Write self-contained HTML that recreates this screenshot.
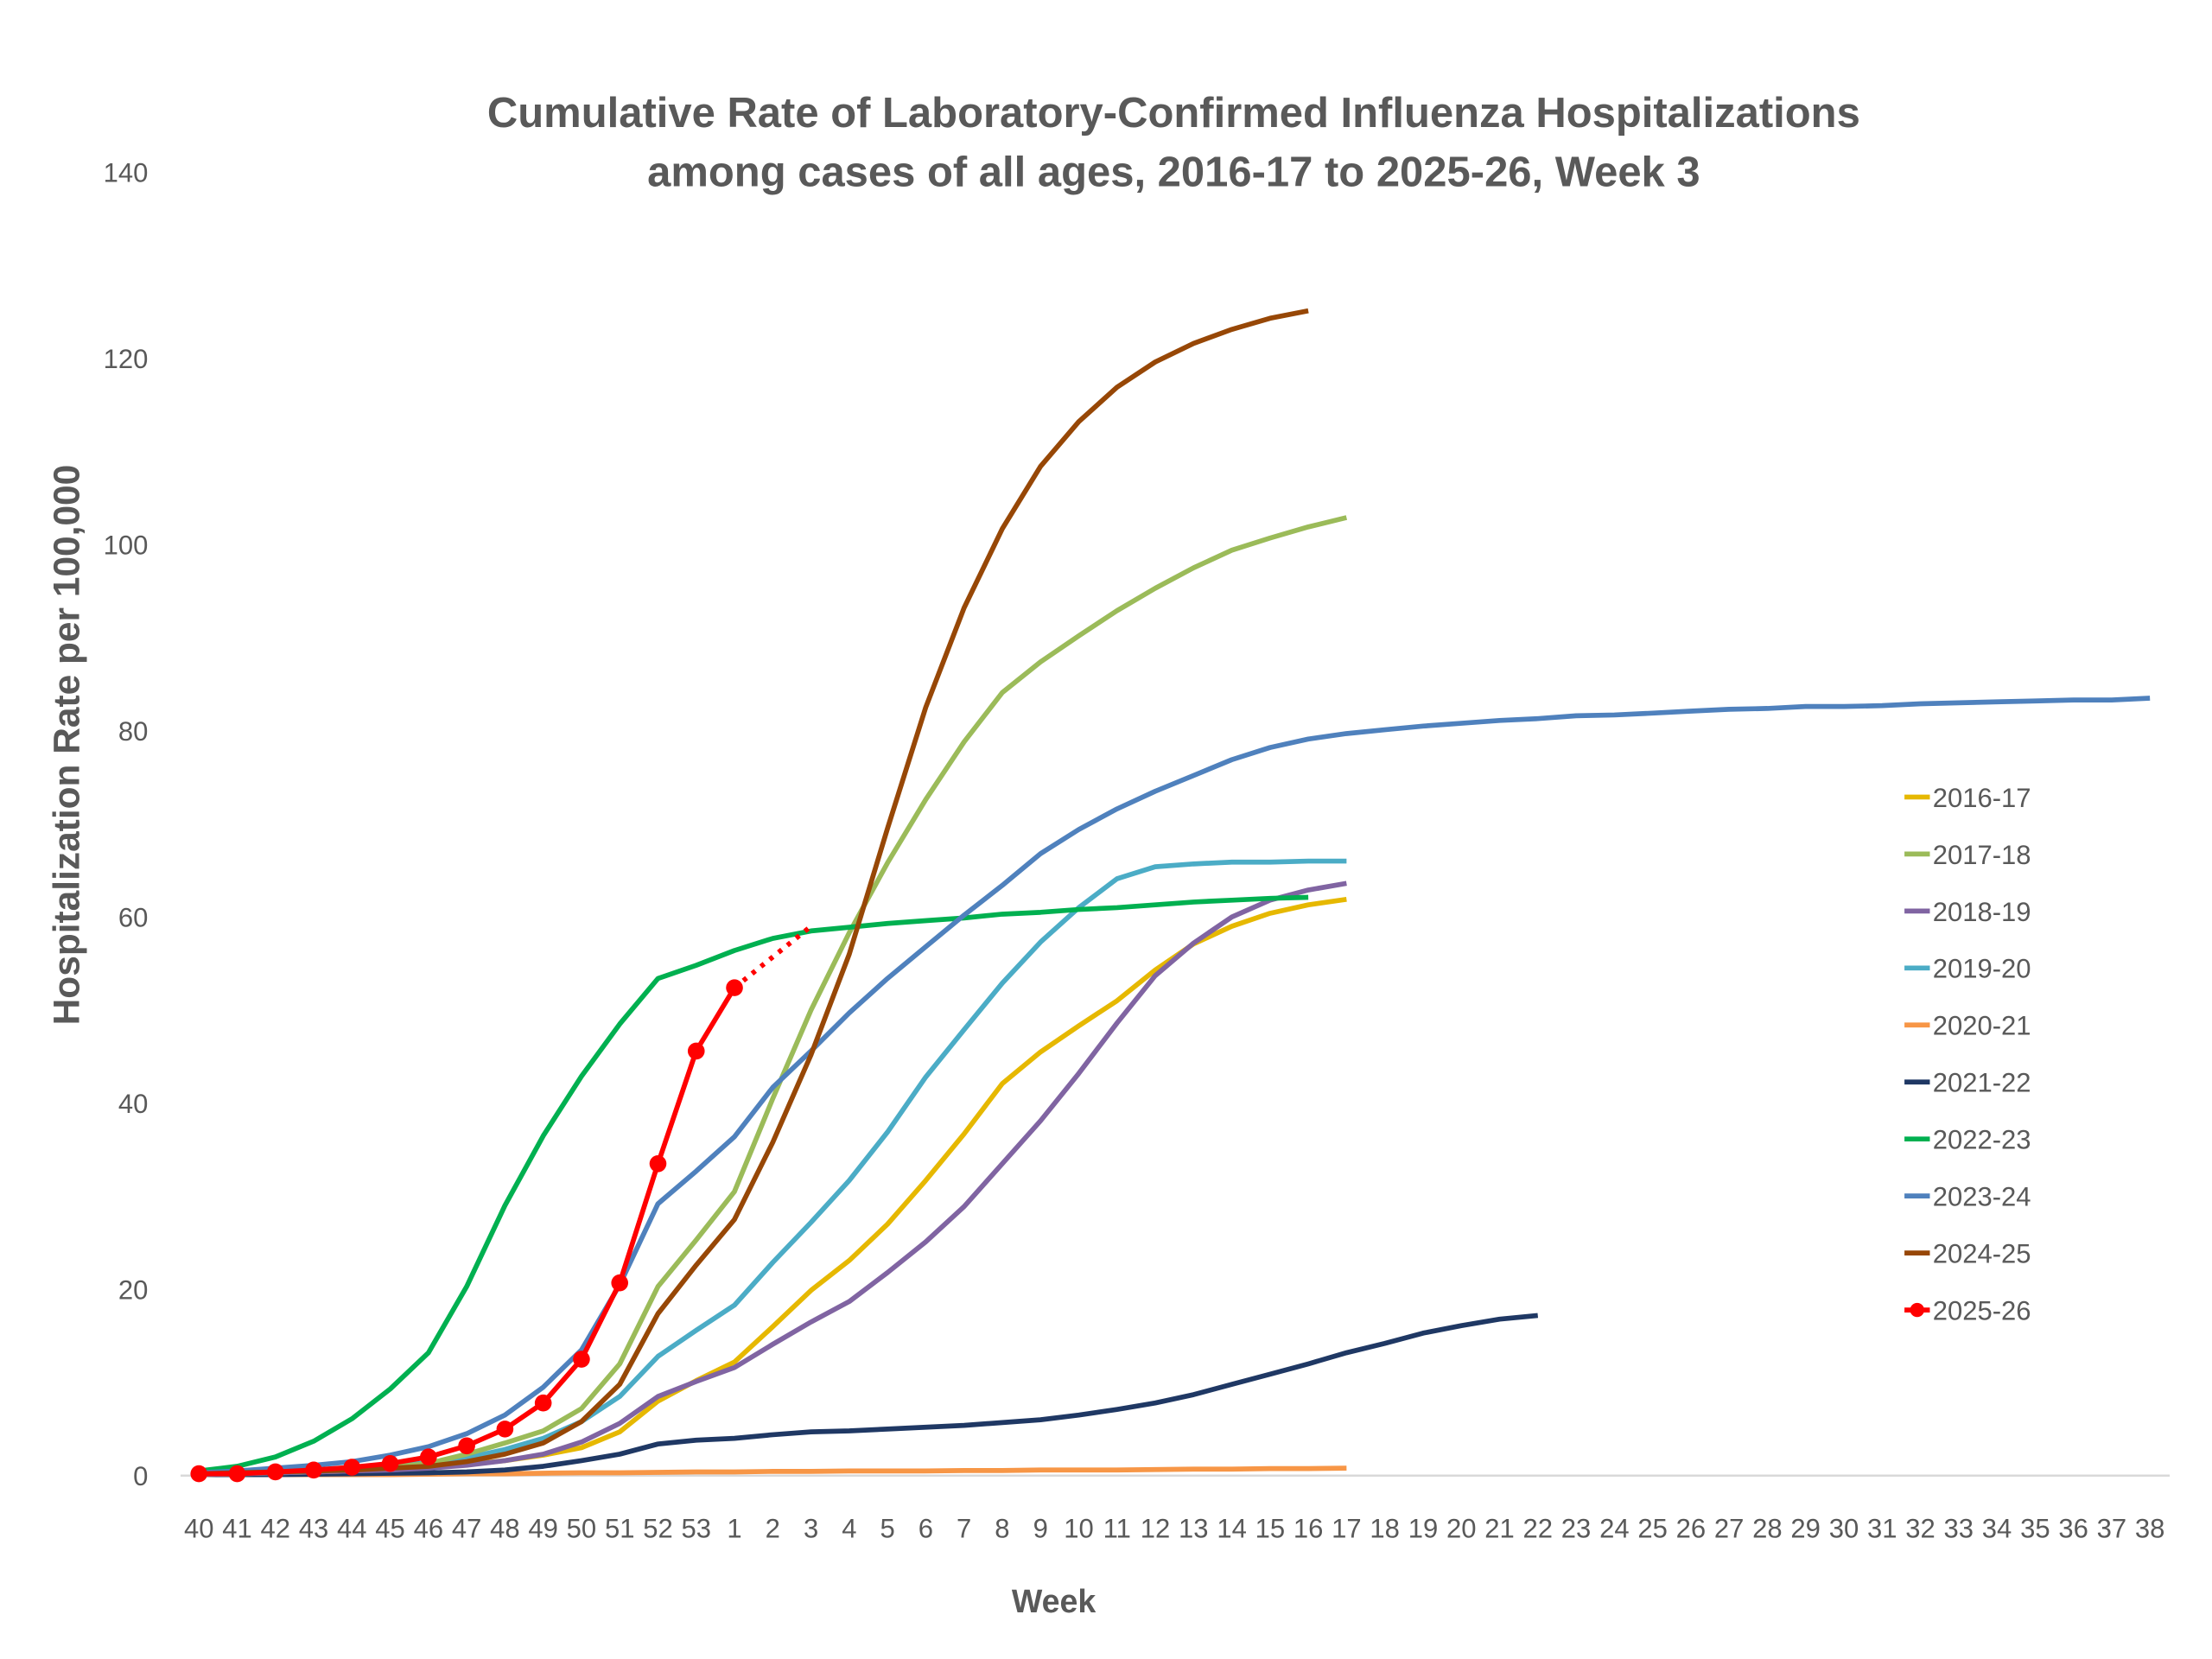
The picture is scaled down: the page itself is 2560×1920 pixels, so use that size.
<!DOCTYPE html>
<html><head><meta charset="utf-8"><style>
html,body{margin:0;padding:0;background:#fff}
svg{display:block}
text{font-family:"Liberation Sans",sans-serif;fill:#595959}
</style></head><body>
<svg id="s" width="2560" height="1920" viewBox="0 0 1568 1176" xmlns="http://www.w3.org/2000/svg">
<rect width="1568" height="1176" fill="#fff"/>
<text x="832" y="90" font-size="30" font-weight="bold" text-anchor="middle">Cumulative Rate of Laboratory-Confirmed Influenza Hospitalizations</text>
<text x="832" y="132" font-size="30" font-weight="bold" text-anchor="middle">among cases of all ages, 2016-17 to 2025-26, Week 3</text>
<text transform="translate(56,528) rotate(-90)" font-size="26" font-weight="bold" text-anchor="middle">Hospitalization Rate per 100,000</text>
<text x="747" y="1143" font-size="23" font-weight="bold" text-anchor="middle">Week</text>
<line x1="128" y1="1046" x2="1538" y2="1046" stroke="#d9d9d9" stroke-width="1.5"/>
<g id="g"></g>
</svg>
<script>
var s=document.getElementById('g'),NS='http://www.w3.org/2000/svg';
function X(i){return 141+i*(1383/51)}function Y(v){return 1046-v*6.6}
function el(t,a,txt){var e=document.createElementNS(NS,t);for(var k in a)e.setAttribute(k,a[k]);if(txt!=null)e.textContent=txt;s.appendChild(e);return e}
for(var v=0;v<=140;v+=20)el('text',{x:105,y:Y(v)+7,'font-size':19,'text-anchor':'end'},v);
var weeks=[];for(var w=40;w<=53;w++)weeks.push(w);for(w=1;w<=38;w++)weeks.push(w);
weeks.forEach(function(w,i){el('text',{x:X(i),y:1090,'font-size':19,'text-anchor':'middle'},w)});
function ser(vals,color){var d='';vals.forEach(function(v,i){d+=(i?'L':'M')+X(i).toFixed(1)+','+Y(v).toFixed(1)});el('path',{d:d,fill:'none',stroke:color,'stroke-width':3.5,'stroke-linejoin':'round'})}
var D={
'2020-21':['#f79646',[0.1,0.1,0.1,0.1,0.1,0.1,0.15,0.2,0.2,0.25,0.3,0.3,0.35,0.4,0.4,0.45,0.45,0.5,0.5,0.5,0.55,0.55,0.6,0.6,0.6,0.65,0.7,0.7,0.75,0.75,0.8]],
'2021-22':['#1f3864',[0.1,0.1,0.1,0.15,0.2,0.25,0.3,0.4,0.6,1,1.6,2.3,3.4,3.8,4,4.4,4.7,4.8,5,5.2,5.4,5.7,6,6.5,7.1,7.8,8.7,9.8,10.9,12,13.2,14.2,15.3,16.1,16.8,17.2]],
'2016-17':['#e6b800',[0.1,0.2,0.3,0.4,0.5,0.7,0.9,1.2,1.6,2.2,3,4.7,8,10.2,12.2,16,19.9,23.1,27,31.7,36.7,42.1,45.5,48.3,51,54.3,57.1,59,60.4,61.3,61.9]],
'2018-19':['#8064a2',[0.1,0.2,0.3,0.4,0.5,0.6,0.8,1.1,1.6,2.3,3.6,5.6,8.5,10.1,11.6,14.1,16.5,18.7,21.8,25.1,28.9,33.5,38.1,43.2,48.6,53.7,57.2,60,61.8,62.9,63.6]],
'2019-20':['#4bacc6',[0.2,0.3,0.4,0.6,0.8,1,1.4,1.9,2.8,4,5.8,8.5,12.8,15.6,18.3,22.9,27.2,31.7,36.9,42.8,47.9,52.9,57.3,61,64.1,65.4,65.7,65.9,65.9,66,66]],
'2017-18':['#9bbb59',[0.2,0.3,0.4,0.5,0.7,0.9,1.3,2.3,3.5,4.8,7.2,12,20.3,25.3,30.5,40.5,50,58.3,65.8,72.6,78.8,84.1,87.4,90.2,92.9,95.3,97.5,99.4,100.7,101.9,102.9]],
'2022-23':['#00b050',[0.5,1,2,3.7,6.1,9.3,13.2,20.3,29,36.5,42.9,48.5,53.4,54.8,56.4,57.7,58.5,58.9,59.3,59.6,59.9,60.3,60.5,60.8,61,61.3,61.6,61.8,62,62.1]],
'2023-24':['#4f81bd',[0.3,0.5,0.8,1.1,1.5,2.2,3.1,4.5,6.5,9.5,13.5,20.5,29.2,32.7,36.4,41.7,45.6,49.7,53.4,56.8,60.2,63.4,66.8,69.4,71.6,73.5,75.2,76.9,78.2,79.1,79.7,80.1,80.5,80.8,81.1,81.3,81.6,81.7,81.9,82.1,82.3,82.4,82.6,82.6,82.7,82.9,83,83.1,83.2,83.3,83.3,83.5]],
'2024-25':['#974706',[0.2,0.3,0.4,0.5,0.6,0.8,1,1.5,2.3,3.5,5.8,9.8,17.4,22.6,27.5,35.8,45.2,56,69.5,82.5,93.2,101.7,108.4,113.2,116.9,119.6,121.6,123.1,124.3,125.1]]};
for(var k in D)ser(D[k][1],D[k][0]);
var R=[0.2,0.2,0.4,0.6,0.9,1.3,2,3.2,5,7.8,12.5,20.7,33.5,45.6,52.4];
el('path',{d:'M'+X(14)+','+Y(52.4)+'L'+X(16)+','+Y(59),fill:'none',stroke:'#ff0000','stroke-width':3.5,'stroke-dasharray':'3,5'});
ser(R,'#ff0000');
R.forEach(function(v,i){el('circle',{cx:X(i),cy:Y(v),r:6,fill:'#ff0000'})});
var L=['2016-17','2017-18','2018-19','2019-20','2020-21','2021-22','2022-23','2023-24','2024-25','2025-26'];
L.forEach(function(n,i){var y=565+i*40.4;var c=n=='2025-26'?'#ff0000':D[n][0];
el('line',{x1:1350,y1:y,x2:1368,y2:y,stroke:c,'stroke-width':3.5});
if(n=='2025-26')el('circle',{cx:1359,cy:y,r:5,fill:c});
el('text',{x:1370,y:y+7,'font-size':19},n)});
</script>
</body></html>
